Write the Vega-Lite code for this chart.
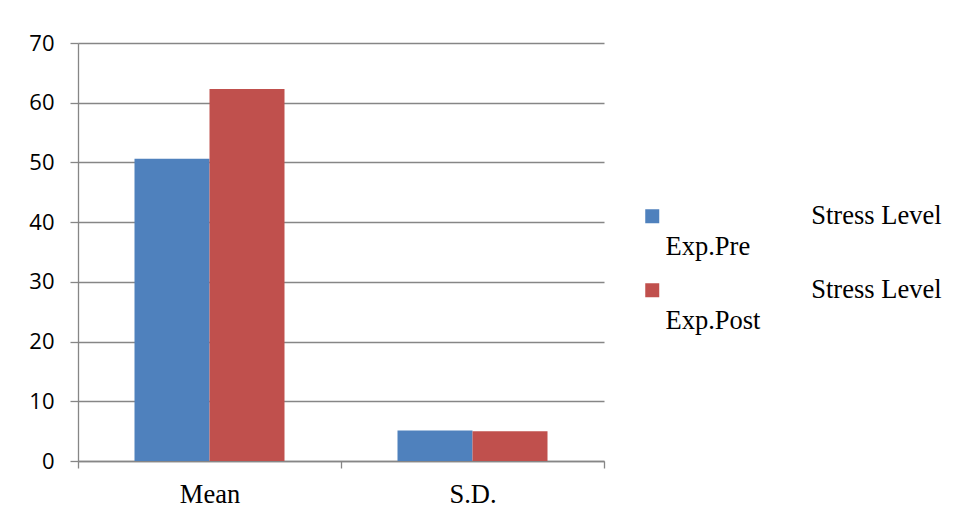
{
  "$schema": "https://vega.github.io/schema/vega-lite/v6.json",
  "autosize": {"type": "none"},
  "padding": {"left": 78, "top": 43, "right": 356, "bottom": 54},
  "width": 526,
  "height": 418,
  "background": "white",
  "data": {
    "values": [
      {"stat": "Mean", "series": "Exp.Pre", "value": 50.6},
      {"stat": "Mean", "series": "Exp.Post", "value": 62.3},
      {"stat": "S.D.", "series": "Exp.Pre", "value": 5.1},
      {"stat": "S.D.", "series": "Exp.Post", "value": 5.0}
    ]
  },
  "mark": {"type": "bar"},
  "encoding": {
    "x": {
      "field": "stat",
      "type": "nominal",
      "sort": ["Mean", "S.D."],
      "scale": {"paddingInner": 0, "paddingOuter": 0},
      "axis": {
        "title": null,
        "labelAngle": 0,
        "tickBand": "extent",
        "tickSize": 7,
        "labelPadding": 13,
        "labelFont": "Liberation Serif",
        "labelFontSize": 26.5,
        "labelColor": "black",
        "domainColor": "#868686",
        "domainWidth": 1.3,
        "tickColor": "#868686",
        "tickWidth": 1.3,
        "grid": false
      }
    },
    "xOffset": {
      "field": "series",
      "sort": ["Exp.Pre", "Exp.Post"],
      "scale": {"paddingInner": 0, "paddingOuter": 0.7533}
    },
    "y": {
      "field": "value",
      "type": "quantitative",
      "scale": {"domain": [0, 70]},
      "axis": {
        "title": null,
        "values": [0, 10, 20, 30, 40, 50, 60, 70],
        "tickSize": 8,
        "labelPadding": 16,
        "labelFont": "Open Sans",
        "labelFontSize": 22,
        "labelColor": "black",
        "gridColor": "#868686",
        "gridWidth": 1.3,
        "domainColor": "#868686",
        "domainWidth": 1.3,
        "tickColor": "#868686",
        "tickWidth": 1.3
      }
    },
    "color": {
      "field": "series",
      "type": "nominal",
      "sort": ["Exp.Pre", "Exp.Post"],
      "scale": {"range": ["#4F81BD", "#C0504D"]},
      "legend": {
        "title": null,
        "orient": "none",
        "legendX": 561,
        "legendY": 160,
        "padding": 0,
        "symbolType": "square",
        "symbolSize": 196,
        "symbolStrokeWidth": 0,
        "labelFont": "Liberation Serif",
        "labelFontSize": 26.5,
        "labelColor": "black",
        "labelLimit": 0,
        "labelOffset": 0,
        "labelBaseline": "alphabetic",
        "rowPadding": 16,
        "labelExpr": "['\u200b\u00a0\u00a0\u00a0\u00a0\u00a0\u00a0\u00a0\u00a0\u00a0\u00a0\u00a0\u00a0\u00a0\u00a0\u00a0\u00a0\u00a0\u00a0\u00a0\u00a0\u00a0\u00a0Stress Level', datum.label]",
        "encode": {
          "labels": {"update": {"lineHeight": {"value": 31}, "dy": {"value": 8}}}
        }
      }
    }
  },
  "config": {"view": {"stroke": null}}
}
